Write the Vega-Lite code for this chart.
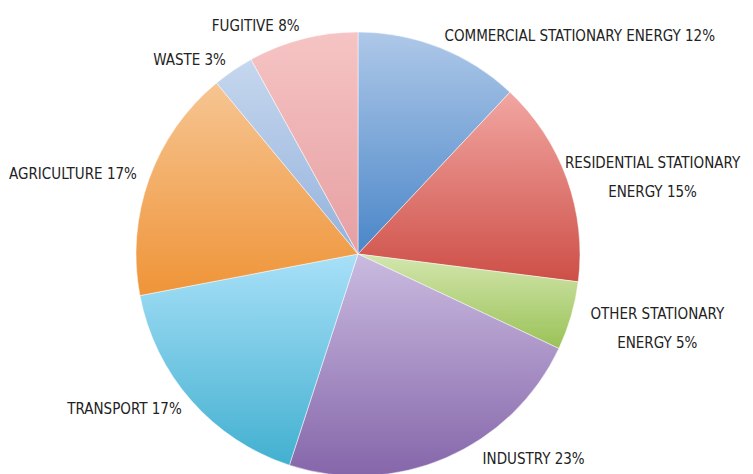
{
  "$schema": "https://vega.github.io/schema/vega-lite/v6.json",
  "width": 716,
  "height": 440,
  "autosize": "none",
  "padding": {"left": 0, "top": 34, "right": 37, "bottom": 0},
  "background": "white",
  "config": {"view": {"stroke": null}},
  "data": {
    "values": [
      {"order": 1, "name": "Commercial", "label": "COMMERCIAL STATIONARY ENERGY 12%", "value": 12},
      {"order": 2, "name": "Residential", "label": "RESIDENTIAL STATIONARY\nENERGY 15%", "value": 15},
      {"order": 3, "name": "Other", "label": "OTHER STATIONARY\nENERGY 5%", "value": 5},
      {"order": 4, "name": "Industry", "label": "INDUSTRY 23%", "value": 23},
      {"order": 5, "name": "Transport", "label": "TRANSPORT 17%", "value": 17},
      {"order": 6, "name": "Agriculture", "label": "AGRICULTURE 17%", "value": 17},
      {"order": 7, "name": "Waste", "label": "WASTE 3%", "value": 3},
      {"order": 8, "name": "Fugitive", "label": "FUGITIVE 8%", "value": 8}
    ]
  },
  "transform": [
    {"stack": "value", "groupby": [], "sort": [{"field": "order", "order": "ascending"}], "as": ["v0", "v1"]},
    {"calculate": "(datum.v0 + datum.v1) / 2", "as": "mid"}
  ],
  "layer": [
    {
      "mark": {"type": "arc", "outerRadius": 222, "stroke": "#ffffff", "strokeWidth": 0.5},
      "encoding": {
        "theta": {"field": "v0", "type": "quantitative", "scale": {"domain": [0, 100]}},
        "theta2": {"field": "v1"},
        "color": {
          "condition": [
            {"test": "datum.name === 'Commercial'", "value": {"gradient": "linear", "x1": 0, "y1": 0, "x2": 0, "y2": 1, "stops": [{"offset": 0, "color": "#aec8e8"}, {"offset": 1, "color": "#4a86c8"}]}},
            {"test": "datum.name === 'Residential'", "value": {"gradient": "linear", "x1": 0, "y1": 0, "x2": 0, "y2": 1, "stops": [{"offset": 0, "color": "#f2a6a2"}, {"offset": 1, "color": "#cd4f47"}]}},
            {"test": "datum.name === 'Other'", "value": {"gradient": "linear", "x1": 0, "y1": 0, "x2": 0, "y2": 1, "stops": [{"offset": 0, "color": "#d3e6ae"}, {"offset": 1, "color": "#9ac257"}]}},
            {"test": "datum.name === 'Industry'", "value": {"gradient": "linear", "x1": 0, "y1": 0, "x2": 0, "y2": 1, "stops": [{"offset": 0, "color": "#cabbe0"}, {"offset": 1, "color": "#8566aa"}]}},
            {"test": "datum.name === 'Transport'", "value": {"gradient": "linear", "x1": 0, "y1": 0, "x2": 0, "y2": 1, "stops": [{"offset": 0, "color": "#a8e0f8"}, {"offset": 1, "color": "#42b0d0"}]}},
            {"test": "datum.name === 'Agriculture'", "value": {"gradient": "linear", "x1": 0, "y1": 0, "x2": 0, "y2": 1, "stops": [{"offset": 0, "color": "#f6c592"}, {"offset": 1, "color": "#ef9438"}]}},
            {"test": "datum.name === 'Waste'", "value": {"gradient": "linear", "x1": 0, "y1": 0, "x2": 0, "y2": 1, "stops": [{"offset": 0, "color": "#c6d7ee"}, {"offset": 1, "color": "#94b2dc"}]}},
            {"test": "datum.name === 'Fugitive'", "value": {"gradient": "linear", "x1": 0, "y1": 0, "x2": 0, "y2": 1, "stops": [{"offset": 0, "color": "#f6c4c4"}, {"offset": 1, "color": "#e69fa2"}]}}
          ],
          "value": "#cccccc"
        }
      }
    },
    {
      "transform": [{"filter": "datum.name === 'Commercial'"}],
      "mark": {"type": "text", "radius": 235, "align": "left", "baseline": "middle", "font": "DejaVu Sans Condensed", "fontSize": 15, "color": "#222222"},
      "encoding": {
        "theta": {"field": "mid", "type": "quantitative"},
        "text": {"field": "label"}
      }
    },
    {
      "transform": [{"filter": "datum.name === 'Industry'"}],
      "mark": {"type": "text", "radius": 223, "dx": 36, "align": "left", "baseline": "middle", "font": "DejaVu Sans Condensed", "fontSize": 15, "color": "#222222"},
      "encoding": {
        "theta": {"field": "mid", "type": "quantitative"},
        "text": {"field": "label"}
      }
    },
    {
      "transform": [{"filter": "datum.name === 'Residential' || datum.name === 'Other'"}],
      "mark": {"type": "text", "radius": 245, "dx": 64, "dy": -8, "align": "center", "baseline": "middle", "lineBreak": "\n", "lineHeight": 29, "font": "DejaVu Sans Condensed", "fontSize": 15, "color": "#222222"},
      "encoding": {
        "theta": {"field": "mid", "type": "quantitative"},
        "text": {"field": "label"}
      }
    },
    {
      "transform": [{"filter": "datum.order >= 5"}],
      "mark": {"type": "text", "radius": 235, "align": "right", "baseline": "middle", "font": "DejaVu Sans Condensed", "fontSize": 15, "color": "#222222"},
      "encoding": {
        "theta": {"field": "mid", "type": "quantitative"},
        "text": {"field": "label"}
      }
    }
  ]
}
